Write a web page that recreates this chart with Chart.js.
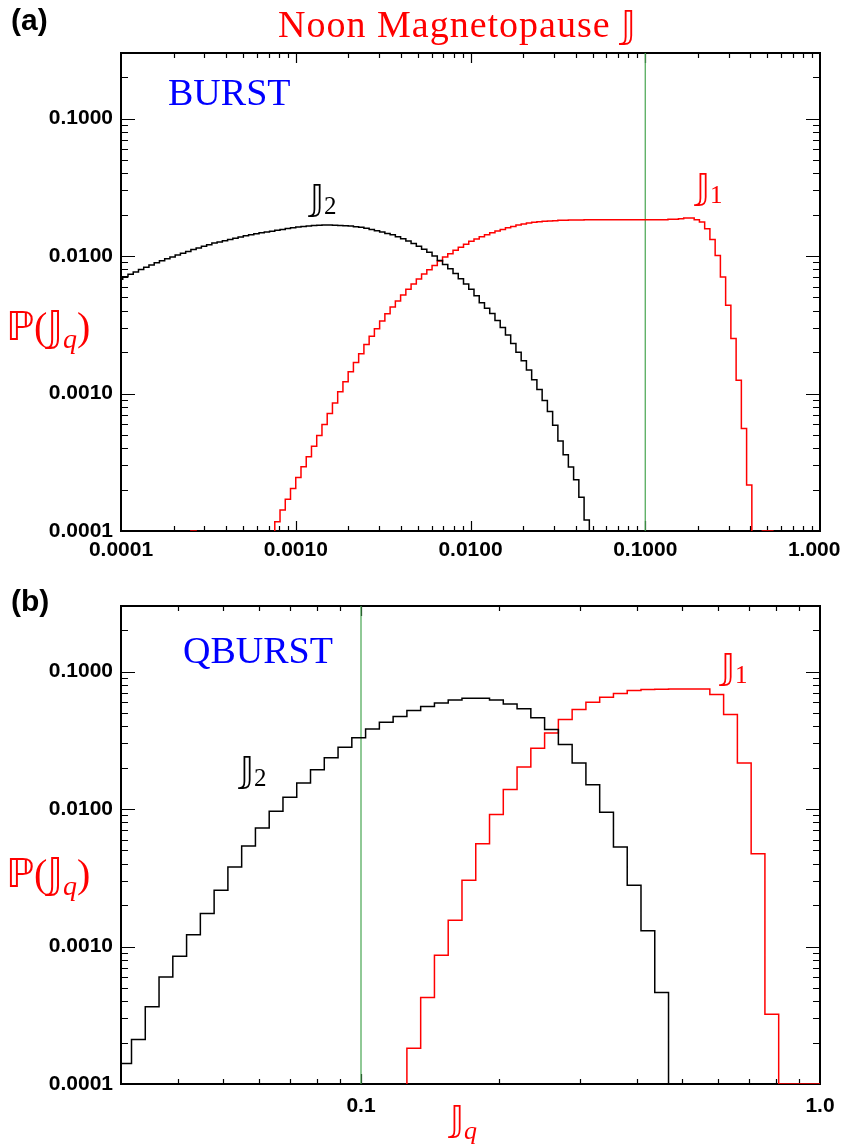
<!DOCTYPE html>
<html>
<head>
<meta charset="utf-8">
<title>Noon Magnetopause J</title>
<script src="https://cdn.jsdelivr.net/npm/chart.js@4.4.1/dist/chart.umd.min.js"></script>
<style>
  html, body { margin: 0; padding: 0; background: #fff; }
  body { width: 841px; height: 1148px; position: relative; overflow: hidden; }
  canvas { position: absolute; left: 0; }
  #chartA { top: 0; }
  #chartB { top: 575px; }
</style>
</head>
<body>
<canvas id="chartA" width="841" height="575"></canvas>
<canvas id="chartB" width="841" height="573"></canvas>
<script>
// histograms of log10(J), bins 0.03 dex wide
const BIN_DEX = 0.03;

// (a) BURST : bin i covers 10^(-4.02 + 0.03 i) .. 10^(-4.02 + 0.03 (i+1))
const burstFirstEdge = -4.02;
const burstJ2Start = 0;
const burstJ2 = [
  6.79e-3, 7.08e-3, 7.36e-3, 7.67e-3, 7.98e-3, 8.28e-3, 8.61e-3, 8.93e-3, 9.25e-3, 9.55e-3,
  9.86e-3, 1.016e-2, 1.050e-2, 1.081e-2, 1.114e-2, 1.146e-2, 1.178e-2, 1.211e-2, 1.242e-2, 1.265e-2,
  1.291e-2, 1.318e-2, 1.349e-2, 1.377e-2, 1.406e-2, 1.429e-2, 1.452e-2, 1.476e-2, 1.496e-2, 1.517e-2,
  1.538e-2, 1.560e-2, 1.585e-2, 1.607e-2, 1.626e-2, 1.641e-2, 1.656e-2, 1.667e-2, 1.675e-2, 1.679e-2,
  1.679e-2, 1.675e-2, 1.671e-2, 1.663e-2, 1.652e-2, 1.637e-2, 1.618e-2, 1.592e-2, 1.563e-2, 1.531e-2,
  1.496e-2, 1.462e-2, 1.426e-2, 1.380e-2, 1.334e-2, 1.288e-2, 1.236e-2, 1.180e-2, 1.122e-2, 1.064e-2,
  1.000e-2, 9.29e-3, 8.67e-3, 8.09e-3, 7.46e-3, 6.84e-3, 6.27e-3, 5.74e-3, 5.15e-3, 4.57e-3,
  4.17e-3, 3.82e-3, 3.40e-3, 3.02e-3, 2.67e-3, 2.31e-3, 2.00e-3, 1.73e-3, 1.48e-3, 1.26e-3,
  1.07e-3, 8.91e-4, 7.41e-4, 5.89e-4, 4.52e-4, 3.59e-4, 2.92e-4, 2.36e-4, 1.76e-4, 1.20e-4
];
const burstJ1Start = 14;
const burstJ1 = [
  1e-4, 0, 0, 0, 0, 0, 0, 0, 0, 0, 0, 0, 0, 0, 0, 0,
  1.17e-4, 1.42e-4, 1.70e-4, 2.04e-4, 2.45e-4, 2.93e-4, 3.47e-4, 4.14e-4, 4.95e-4, 5.95e-4,
  7.16e-4, 8.55e-4, 1.03e-3, 1.22e-3, 1.44e-3, 1.68e-3, 1.95e-3, 2.27e-3, 2.61e-3, 2.96e-3,
  3.37e-3, 3.81e-3, 4.26e-3, 4.71e-3, 5.21e-3, 5.73e-3, 6.27e-3, 6.81e-3, 7.40e-3, 7.96e-3,
  8.55e-3, 9.20e-3, 9.84e-3, 1.04e-2, 1.10e-2, 1.16e-2, 1.22e-2, 1.28e-2, 1.33e-2, 1.38e-2,
  1.43e-2, 1.48e-2, 1.52e-2, 1.56e-2, 1.61e-2, 1.64e-2, 1.68e-2, 1.71e-2, 1.74e-2, 1.76e-2,
  1.78e-2, 1.79e-2, 1.80e-2, 1.81e-2, 1.82e-2, 1.82e-2, 1.83e-2, 1.83e-2, 1.83e-2, 1.84e-2,
  1.84e-2, 1.84e-2, 1.84e-2, 1.84e-2, 1.84e-2, 1.84e-2, 1.84e-2, 1.84e-2, 1.84e-2, 1.84e-2,
  1.84e-2, 1.84e-2, 1.84e-2, 1.84e-2, 1.84e-2, 1.85e-2, 1.85e-2, 1.87e-2, 1.89e-2, 1.89e-2,
  1.84e-2, 1.77e-2, 1.58e-2, 1.32e-2, 1.01e-2, 7.03e-3, 4.39e-3, 2.51e-3, 1.25e-3, 5.57e-4,
  2.16e-4, 0, 0, 1e-4, 1e-4
];

// (b) QBURST : bin i covers 10^(-1.53 + 0.03 i) .. 10^(-1.53 + 0.03 (i+1))
const qburstFirstEdge = -1.53;
const qburstJ2Start = 0;
const qburstJ2 = [
  1.41e-4, 2.11e-4, 3.65e-4, 6.00e-4, 8.50e-4, 1.22e-3, 1.74e-3, 2.57e-3, 3.79e-3, 5.38e-3,
  7.28e-3, 9.62e-3, 1.22e-2, 1.55e-2, 1.93e-2, 2.36e-2, 2.82e-2, 3.30e-2, 3.83e-2, 4.28e-2,
  4.71e-2, 5.21e-2, 5.57e-2, 5.92e-2, 6.22e-2, 6.40e-2, 6.40e-2, 6.22e-2, 5.82e-2, 5.36e-2,
  4.61e-2, 3.79e-2, 2.95e-2, 2.16e-2, 1.50e-2, 9.46e-3, 5.30e-3, 2.79e-3, 1.30e-3, 4.63e-4
];
const qburstJ1Start = 21;
const qburstJ1 = [
  1.82e-4, 4.26e-4, 8.65e-4, 1.55e-3, 3.03e-3, 5.60e-3, 9.14e-3, 1.39e-2, 2.02e-2, 2.77e-2,
  3.58e-2, 4.48e-2, 5.30e-2, 5.98e-2, 6.51e-2, 6.92e-2, 7.28e-2, 7.40e-2, 7.43e-2, 7.47e-2,
  7.47e-2, 7.47e-2, 6.81e-2, 4.88e-2, 2.16e-2, 4.74e-3, 3.22e-4, 1e-4, 1e-4, 1e-4
];

const jMarker = 0.1;               // green vertical line
const yRange = [0.0001, 0.3];
const burstXRange = [0.0001, 1.0];
const qburstXRange = [0.03, 1.0];

const RED = '#ff0000';
const BLUE = '#0000ff';
const GREEN = 'rgb(70,165,80)';
const SERIF = '"Liberation Serif", "DejaVu Serif", serif';
const MATH = '"DejaVu Sans", "DejaVu Serif", serif';
const SANS = '"Liberation Sans", Arial, sans-serif';

// empty bins fall below the axis and get clipped
const BELOW_AXIS = 1e-7;

function histPoints(firstEdge, start, values) {
  const pts = [];
  const edge = i => Math.pow(10, firstEdge + BIN_DEX * i);
  pts.push({x: edge(start), y: BELOW_AXIS});
  values.forEach((v, k) => {
    const y = v > 0 ? v : BELOW_AXIS;
    pts.push({x: edge(start + k), y: y});
    pts.push({x: edge(start + k + 1), y: y});
  });
  pts.push({x: edge(start + values.length), y: BELOW_AXIS});
  return pts;
}

function isDecade(v) {
  const l = Math.log10(v);
  return Math.abs(l - Math.round(l)) < 1e-6;
}

function logTicks(min, max) {
  const out = [];
  for (let e = Math.floor(Math.log10(min)); e <= Math.ceil(Math.log10(max)); e++) {
    for (let m = 1; m <= 9; m++) {
      const v = m * Math.pow(10, e);
      if (v >= min * (1 - 1e-9) && v <= max * (1 + 1e-9)) out.push({value: v});
    }
  }
  return out;
}

function drawRuns(ctx, x, y, runs, color, align) {
  ctx.save();
  ctx.fillStyle = color;
  ctx.textBaseline = 'alphabetic';
  ctx.textAlign = 'left';
  let w = 0;
  runs.forEach(r => {
    ctx.font = r.font;
    ctx.letterSpacing = r.ls || '0px';
    w += ctx.measureText(r.text).width;
  });
  let cx = align === 'center' ? x - w / 2 : x;
  runs.forEach(r => {
    ctx.font = r.font;
    ctx.letterSpacing = r.ls || '0px';
    ctx.fillText(r.text, cx, y + (r.dy || 0));
    cx += ctx.measureText(r.text).width;
  });
  ctx.restore();
}

const JJ = '\uD835\uDD41';   // double-struck J

const jq = (size) => [
  {text: '\u2119', font: size + 'px ' + MATH},
  {text: '(', font: size + 'px ' + SERIF},
  {text: JJ, font: size + 'px ' + MATH},
  {text: 'q', font: 'italic ' + Math.round(size * 0.7) + 'px ' + SERIF, dy: 8},
  {text: ')', font: size + 'px ' + SERIF}
];
const jSub = (sub) => [
  {text: JJ, font: '36px ' + MATH},
  {text: sub, font: '25px ' + SERIF, dy: 4}
];

// text placed in canvas pixels
const labelsA = [
  {runs: [{text: '(a)', font: 'bold 30px ' + SANS}], x: 11, y: 30, color: '#000'},
  {runs: [{text: 'Noon Magnetopause ', font: '38px ' + SERIF, ls: '1px'}, {text: JJ, font: '38px ' + MATH}],
   x: 457, y: 37, color: RED, align: 'center'},
  {runs: [{text: 'BURST', font: '38px ' + SERIF}], x: 168, y: 105, color: BLUE},
  {runs: jSub('2'), x: 310, y: 210, color: '#000'},
  {runs: jSub('1'), x: 696, y: 199, color: RED},
  {runs: jq(40), x: 6, y: 340, color: RED}
];
const labelsB = [
  {runs: [{text: '(b)', font: 'bold 30px ' + SANS}], x: 11, y: 36, color: '#000'},
  {runs: [{text: 'QBURST', font: '38px ' + SERIF}], x: 183, y: 88, color: BLUE},
  {runs: jSub('2'), x: 240, y: 207, color: '#000'},
  {runs: jSub('1'), x: 721, y: 104, color: RED},
  {runs: jq(40), x: 6, y: 312, color: RED},
  {runs: [{text: JJ, font: '36px ' + MATH}, {text: 'q', font: 'italic 26px ' + SERIF, dy: 8}],
   x: 450, y: 556, color: RED}
];

// inward IDL-style ticks on all four sides plus the frame
const frameTicks = {
  id: 'frameTicks',
  beforeDatasetsDraw(chart) {
    const {ctx, chartArea: a} = chart;
    const x = chart.scales.x, y = chart.scales.y;
    ctx.save();
    ctx.strokeStyle = '#000';
    ctx.lineWidth = 1.2;
    ctx.beginPath();
    x.ticks.forEach(t => {
      const px = Math.round(x.getPixelForValue(t.value)) + 0.5;
      if (px < a.left + 1 || px > a.right - 1) return;
      const len = isDecade(t.value) ? 10 : 5;
      ctx.moveTo(px, a.bottom); ctx.lineTo(px, a.bottom - len);
      ctx.moveTo(px, a.top); ctx.lineTo(px, a.top + len);
    });
    y.ticks.forEach(t => {
      const py = Math.round(y.getPixelForValue(t.value)) + 0.5;
      if (py < a.top + 1 || py > a.bottom - 1) return;
      const len = isDecade(t.value) ? 14 : 7;
      ctx.moveTo(a.left, py); ctx.lineTo(a.left + len, py);
      ctx.moveTo(a.right, py); ctx.lineTo(a.right - len, py);
    });
    ctx.stroke();
    ctx.lineWidth = 2;
    ctx.strokeRect(a.left, a.top, a.right - a.left, a.bottom - a.top);
    ctx.restore();
  },
  afterDraw(chart, args, opts) {
    (opts.labels || []).forEach(l => drawRuns(chart.ctx, l.x, l.y, l.runs, l.color, l.align));
  }
};

function makePanel(id, cfg) {
  const canvas = document.getElementById(id);
  return new Chart(canvas, {
    type: 'line',
    data: {
      datasets: [
        {
          label: 'J2',
          data: histPoints(cfg.firstEdge, cfg.j2Start, cfg.j2),
          borderColor: '#000',
          borderWidth: 1.5
        },
        {
          label: 'J1',
          data: histPoints(cfg.firstEdge, cfg.j1Start, cfg.j1),
          borderColor: RED,
          borderWidth: 1.5
        },
        {
          label: 'marker',
          data: [{x: jMarker, y: yRange[0]}, {x: jMarker, y: yRange[1]}],
          borderColor: GREEN,
          borderWidth: 1.2
        }
      ]
    },
    options: {
      responsive: false,
      animation: false,
      devicePixelRatio: 1,
      elements: {
        point: { radius: 0, hoverRadius: 0 },
        line: { tension: 0, fill: false }
      },
      layout: {
        padding: { top: cfg.padTop, right: 21, left: 0, bottom: 0 }
      },
      plugins: {
        legend: { display: false },
        tooltip: { enabled: false },
        frameTicks: { labels: cfg.labels }
      },
      scales: {
        x: {
          type: 'logarithmic',
          position: 'bottom',
          min: cfg.xRange[0],
          max: cfg.xRange[1],
          grid: { display: false, drawTicks: false },
          border: { display: false },
          afterBuildTicks: scale => { scale.ticks = logTicks(scale.min, scale.max); },
          afterFit: scale => {
            scale.height = cfg.xAxisHeight;
            scale.paddingLeft = 0;
            scale.paddingRight = 0;
          },
          ticks: {
            autoSkip: false,
            maxRotation: 0,
            minRotation: 0,
            padding: cfg.xTickPad,
            color: '#000',
            font: { family: SANS, size: 21, weight: 'bold' },
            callback: v => isDecade(v) ? v.toFixed(cfg.xDigits) : ''
          }
        },
        y: {
          type: 'logarithmic',
          position: 'left',
          min: yRange[0],
          max: yRange[1],
          grid: { display: false, drawTicks: false },
          border: { display: false },
          afterBuildTicks: scale => { scale.ticks = logTicks(scale.min, scale.max); },
          afterFit: scale => {
            scale.width = 121;
            scale.paddingTop = 0;
            scale.paddingBottom = 0;
          },
          ticks: {
            autoSkip: false,
            padding: 8,
            color: '#000',
            font: { family: SANS, size: 21, weight: 'bold' },
            callback: v => isDecade(v) ? v.toFixed(4) : ''
          }
        }
      }
    },
    plugins: [frameTicks]
  });
}

makePanel('chartA', {
  firstEdge: burstFirstEdge,
  j2Start: burstJ2Start, j2: burstJ2,
  j1Start: burstJ1Start, j1: burstJ1,
  xRange: burstXRange, xDigits: 4,
  padTop: 53, xAxisHeight: 44, xTickPad: 7,
  labels: labelsA
});

makePanel('chartB', {
  firstEdge: qburstFirstEdge,
  j2Start: qburstJ2Start, j2: qburstJ2,
  j1Start: qburstJ1Start, j1: qburstJ1,
  xRange: qburstXRange, xDigits: 1,
  padTop: 31, xAxisHeight: 64, xTickPad: 10,
  labels: labelsB
});
</script>
</body>
</html>
